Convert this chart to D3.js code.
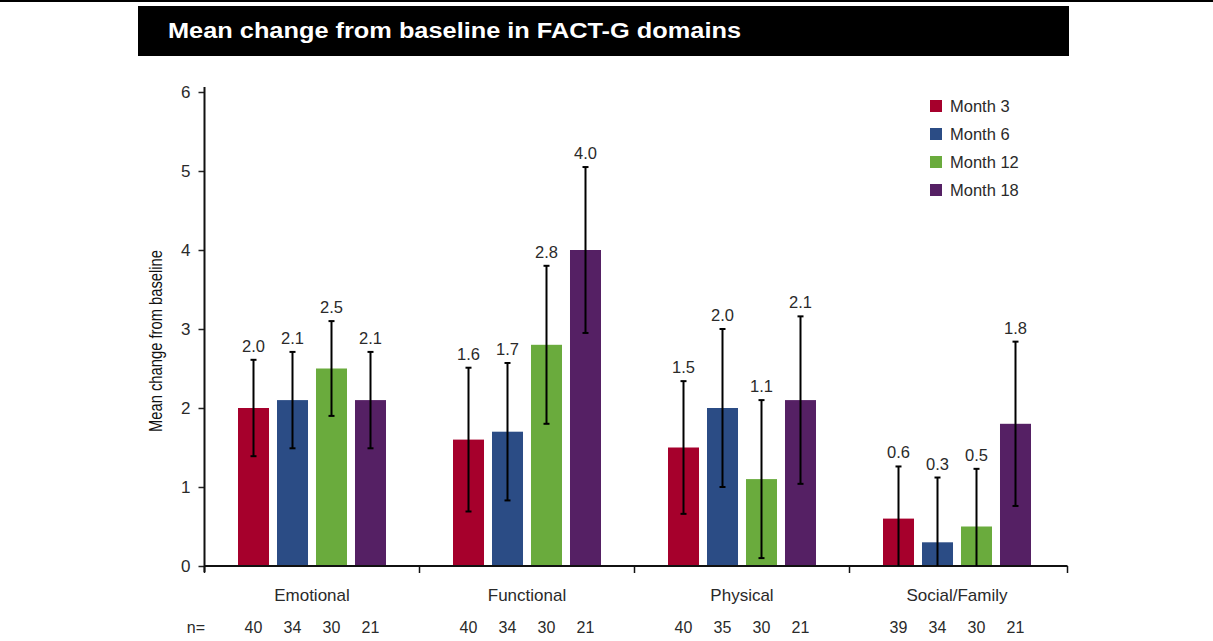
<!DOCTYPE html>
<html>
<head>
<meta charset="utf-8">
<script src="https://cdn.jsdelivr.net/npm/d3@7"></script>
<style>
  html, body { margin: 0; padding: 0; background: #fff; }
  svg { display: block; font-family: "Liberation Sans", Arial, Helvetica, sans-serif; }
</style>
</head>
<body>
<svg id="chart" width="1213" height="641"></svg>
<script>
// FACT-G domains and visit series
const domains = ["Emotional", "Functional", "Physical", "Social/Family"];
const months = ["Month 3", "Month 6", "Month 12", "Month 18"];
const monthColors = ["#a6002c", "#2b4c85", "#6aab3d", "#552064"];

// Mean change from baseline, one row per domain, one column per month
const means = [
  [2.0, 2.1, 2.5, 2.1],
  [1.6, 1.7, 2.8, 4.0],
  [1.5, 2.0, 1.1, 2.1],
  [0.6, 0.3, 0.5, 1.8]
];
// Half-width of the error bar for each mean
const errors = [
  [0.61, 0.61, 0.60, 0.61],
  [0.91, 0.87, 1.00, 1.05],
  [0.84, 1.00, 1.00, 1.06],
  [0.66, 0.82, 0.73, 1.04]
];
// Patients contributing at each visit
const counts = [
  [40, 34, 30, 21],
  [40, 34, 30, 21],
  [40, 35, 30, 21],
  [39, 34, 30, 21]
];
const yTicks = [0, 1, 2, 3, 4, 5, 6];

const svg = d3.select("#chart");
const textColor = "#2a2a2a";

// Rule across the top of the figure
svg.append("line")
  .attr("x1", 0).attr("x2", 1213).attr("y1", 1).attr("y2", 1)
  .attr("stroke", "#000").attr("stroke-width", 2);

// Title banner
svg.append("rect")
  .attr("x", 138).attr("y", 6).attr("width", 931).attr("height", 50)
  .attr("fill", "#000");
svg.append("text")
  .attr("x", 168).attr("y", 38)
  .attr("fill", "#fff")
  .attr("font-weight", "bold")
  .attr("font-size", 22)
  .attr("textLength", 573)
  .attr("lengthAdjust", "spacingAndGlyphs")
  .text("Mean change from baseline in FACT-G domains");

// Scales
const y = d3.scaleLinear().domain([0, 6]).range([566, 92]);
const x0 = d3.scaleBand().domain(domains).range([204.5, 1064.5]).paddingInner(0).paddingOuter(0);
const x1 = d3.scaleBand().domain(months).range([0, x0.bandwidth()]).paddingInner(0.205).paddingOuter(0.859);
const color = d3.scaleOrdinal().domain(months).range(monthColors);

// Y axis
const yAxis = svg.append("g")
  .attr("transform", "translate(204.5,0)")
  .call(d3.axisLeft(y).tickValues(yTicks).tickFormat(d3.format("d")).tickSize(6).tickPadding(8));
yAxis.select(".domain").remove();
yAxis.selectAll(".tick line").attr("stroke", "#222").attr("stroke-width", 1.5);
yAxis.selectAll(".tick text")
  .attr("fill", textColor)
  .style("font-family", "'Liberation Sans', Arial, sans-serif")
  .attr("font-size", 17);
yAxis.append("line")
  .attr("x1", 0).attr("x2", 0).attr("y1", 87).attr("y2", 572)
  .attr("stroke", "#111").attr("stroke-width", 2);

// Y axis title, set in a narrow face
svg.append("text")
  .attr("transform", `translate(162,${(y(0) + y(6)) / 2 + 12}) rotate(-90)`)
  .attr("text-anchor", "middle")
  .attr("fill", "#111")
  .attr("font-size", 19)
  .style("font-family", "'Liberation Sans Narrow', 'Arial Narrow', 'Liberation Sans', sans-serif")
  .attr("textLength", 182)
  .attr("lengthAdjust", "spacingAndGlyphs")
  .text("Mean change from baseline");

// Rows of flattened data for drawing
const rows = [];
domains.forEach((d, i) => {
  months.forEach((m, j) => {
    rows.push({ domain: d, month: m, value: means[i][j], err: errors[i][j], n: counts[i][j] });
  });
});
const cx = r => x0(r.domain) + x1(r.month) + x1.bandwidth() / 2;

// Bars
svg.append("g").selectAll("rect")
  .data(rows)
  .join("rect")
  .attr("x", r => x0(r.domain) + x1(r.month))
  .attr("y", r => y(r.value))
  .attr("width", x1.bandwidth())
  .attr("height", r => y(0) - y(r.value))
  .attr("fill", r => color(r.month));

// X axis line with ticks at the domain boundaries
const xAxis = svg.append("g");
xAxis.append("line")
  .attr("x1", 204.5).attr("x2", x0.range()[1] + 3)
  .attr("y1", y(0)).attr("y2", y(0))
  .attr("stroke", "#111").attr("stroke-width", 2);
const boundaries = domains.map(d => x0(d)).concat([x0.range()[1] + 3]);
xAxis.selectAll("line.tick")
  .data(boundaries)
  .join("line")
  .attr("class", "tick")
  .attr("x1", d => d).attr("x2", d => d)
  .attr("y1", y(0)).attr("y2", y(0) + 7)
  .attr("stroke", "#111").attr("stroke-width", 1.5);

// Error bars (lower end stops at the axis)
const eb = svg.append("g").attr("stroke", "#000").attr("stroke-width", 2);
const capW = 3;
rows.forEach(r => {
  const top = y(r.value + r.err);
  const bottom = y(Math.max(0, r.value - r.err));
  const x = cx(r);
  eb.append("line").attr("x1", x).attr("x2", x).attr("y1", top).attr("y2", bottom);
  eb.append("line").attr("x1", x - capW).attr("x2", x + capW).attr("y1", top).attr("y2", top);
  if (r.value - r.err > 0) {
    eb.append("line").attr("x1", x - capW).attr("x2", x + capW).attr("y1", bottom).attr("y2", bottom);
  }
});

// Value labels above the error bars
svg.append("g").selectAll("text")
  .data(rows)
  .join("text")
  .attr("x", cx)
  .attr("y", r => y(r.value + r.err) - 8)
  .attr("text-anchor", "middle")
  .attr("fill", textColor)
  .attr("font-size", 16.5)
  .text(r => d3.format(".1f")(r.value));

// Domain names
svg.append("g").selectAll("text")
  .data(domains)
  .join("text")
  .attr("x", d => x0(d) + x0.bandwidth() / 2)
  .attr("y", 601)
  .attr("text-anchor", "middle")
  .attr("fill", textColor)
  .attr("font-size", 17)
  .text(d => d);

// Sample sizes
svg.append("text")
  .attr("x", 205).attr("y", 633)
  .attr("text-anchor", "end")
  .attr("fill", textColor)
  .attr("font-size", 16)
  .text("n=");
svg.append("g").selectAll("text")
  .data(rows)
  .join("text")
  .attr("x", cx)
  .attr("y", 633)
  .attr("text-anchor", "middle")
  .attr("fill", textColor)
  .attr("font-size", 16)
  .text(r => r.n);

// Legend
const legend = svg.append("g").attr("transform", "translate(930,100)");
const items = legend.selectAll("g")
  .data(months)
  .join("g")
  .attr("transform", (d, i) => `translate(0,${i * 28})`);
items.append("rect")
  .attr("width", 12).attr("height", 12)
  .attr("fill", d => color(d));
items.append("text")
  .attr("x", 20).attr("y", 12)
  .attr("fill", textColor)
  .attr("font-size", 16.5)
  .text(d => d);
</script>
</body>
</html>
